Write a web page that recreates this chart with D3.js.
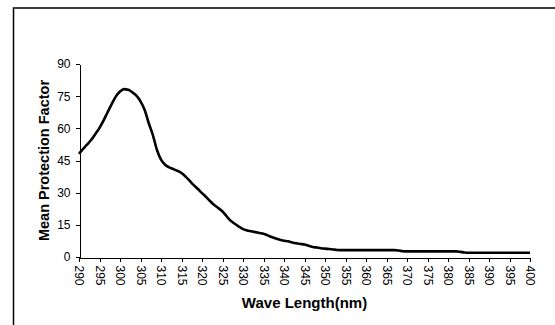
<!DOCTYPE html>
<html>
<head>
<meta charset="utf-8">
<script src="https://cdn.jsdelivr.net/npm/d3@7"></script>
<style>
    body { margin: 0; background: #fff; }
    svg { display: block; font-family: "Liberation Sans", Arial, sans-serif; }
    .axis path, .axis line { stroke: #000; shape-rendering: crispEdges; }
    .axis text { font-size: 12px; fill: #000; }
    .title { font-weight: bold; fill: #000; }
</style>
</head>
<body>
<div id="chart"></div>
<script>
// Wavelength (nm) and mean protection factor
const wavelengths = [
    290, 291, 292, 293, 294, 295, 296, 297, 298, 299,
    300, 301, 302, 303, 304, 305, 306, 307, 308, 309,
    310, 311, 312, 313, 314, 315, 316, 317, 318, 319,
    320, 321, 322, 323, 324, 325, 326, 327, 328, 329,
    330, 331, 332, 333, 334, 335, 336, 337, 338, 339,
    340, 341, 342, 343, 344, 345, 346, 347, 348, 349,
    350, 351, 352, 353, 354, 355, 360, 365, 367, 368,
    369, 370, 375, 380, 382, 383, 384, 385, 390, 395, 400
];
const protection = [
    48.1, 50.4, 52.5, 54.7, 57.4, 60.2, 63.7, 67.6, 71.4, 74.9,
    77.2, 78.3, 78.0, 76.8, 75.2, 72.6, 68.7, 62.5, 57.0, 50.0,
    45.4, 43.0, 41.8, 41.0, 40.2, 39.2, 37.5, 35.5, 33.5, 31.7,
    29.8, 28.0, 26.0, 24.2, 22.8, 21.2, 19.0, 16.9, 15.5, 14.2,
    13.0, 12.4, 12.0, 11.6, 11.2, 10.8, 10.1, 9.3, 8.6, 8.0,
    7.6, 7.3, 6.8, 6.4, 6.1, 5.8, 5.2, 4.7, 4.4, 4.1,
    3.9, 3.7, 3.5, 3.3, 3.2, 3.2, 3.2, 3.2, 3.2, 3.0,
    2.7, 2.6, 2.6, 2.6, 2.6, 2.4, 2.1, 2.0, 2.0, 2.0, 2.0
];
const xTicks = d3.range(290, 401, 5);
const yTicks = [0, 15, 30, 45, 60, 75, 90];

const width = 555, height = 325;
const margin = {top: 64, right: 25, bottom: 68, left: 79};

const svg = d3.select('#chart')
    .append('svg')
    .attr('width', width)
    .attr('height', height);

// Outer chart frame (only top and left edges fall inside the picture)
svg.append('path')
    .attr('d', `M13.5,${height}V8H${width}`)
    .attr('fill', 'none')
    .attr('stroke', '#000')
    .attr('stroke-width', 1.5);

const x = d3.scaleLinear()
    .domain([290, 400])
    .range([margin.left, width - margin.right]);

const y = d3.scaleLinear()
    .domain([0, 90])
    .range([height - margin.bottom, margin.top]);

// Y axis
svg.append('g')
    .attr('class', 'axis')
    .attr('transform', `translate(${margin.left + 0.5},0)`)
    .call(d3.axisLeft(y).tickValues(yTicks).tickSize(4).tickPadding(5).tickSizeOuter(0));

// X axis with vertical labels
const xAxis = svg.append('g')
    .attr('class', 'axis')
    .attr('transform', `translate(0,${height - margin.bottom + 0.5})`)
    .call(d3.axisBottom(x).tickValues(xTicks).tickSize(4).tickSizeOuter(0));

xAxis.selectAll('text')
    .attr('transform', 'rotate(90)')
    .attr('x', 8)
    .attr('y', 0)
    .attr('dy', '0.35em')
    .style('text-anchor', 'start');

// Curve
const line = d3.line()
    .x((d, i) => x(wavelengths[i]))
    .y(d => y(d))
    .curve(d3.curveMonotoneX);

svg.append('path')
    .datum(protection)
    .attr('fill', 'none')
    .attr('stroke', '#000')
    .attr('stroke-width', 2.6)
    .attr('stroke-linejoin', 'round')
    .attr('d', line);

// Axis titles
svg.append('text')
    .attr('class', 'title')
    .attr('text-anchor', 'middle')
    .style('font-size', '14.5px')
    .attr('transform', `translate(49,${(y(0) + y(90)) / 2}) rotate(-90)`)
    .text('Mean Protection Factor');

svg.append('text')
    .attr('class', 'title')
    .attr('text-anchor', 'middle')
    .style('font-size', '15px')
    .attr('x', (x(290) + x(400)) / 2)
    .attr('y', 308)
    .text('Wave Length(nm)');
</script>
</body>
</html>
